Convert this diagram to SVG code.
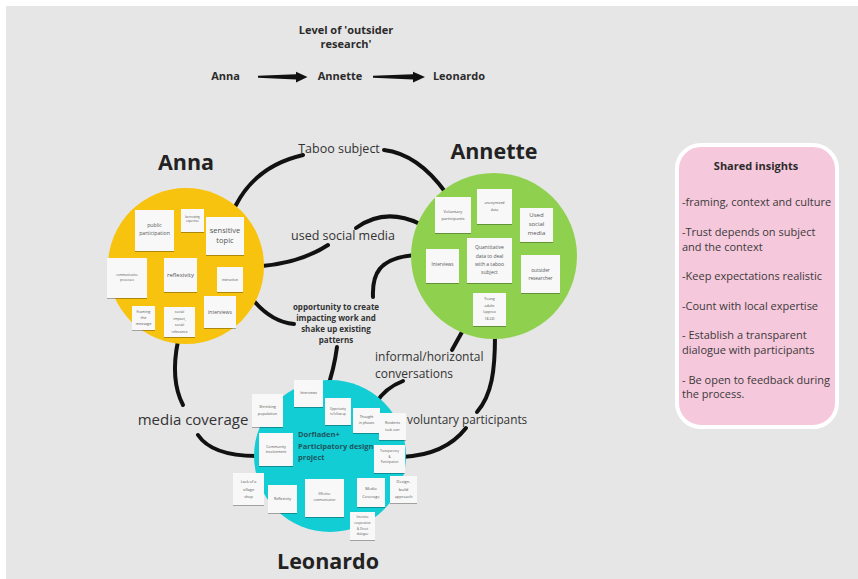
<svg xmlns="http://www.w3.org/2000/svg" width="858" height="579" viewBox="0 0 858 579">
<style>
text{font-family:"Open Sans","Noto Sans","Liberation Sans",sans-serif;fill:#333}
.hdr{font-size:11px;font-weight:700;fill:#2b2b2b}
.title{font-size:21.5px;font-weight:700;fill:#222;text-anchor:middle}
.lbl{font-size:12.5px;fill:#333}
.conn{fill:none;stroke:#111;stroke-width:4;stroke-linecap:round}
.note rect{fill:#f8f8f8;filter:url(#sh)}
.note text{fill:#555;text-anchor:middle}
.ins{font-size:11px;fill:#3a3a3a}
</style>
<defs>
<filter id="sh" x="-20%" y="-20%" width="140%" height="150%"><feDropShadow dx="0" dy="1" stdDeviation="0.7" flood-color="#000" flood-opacity="0.3"/></filter>
</defs>
<rect width="858" height="579" fill="#ffffff"/>
<rect x="6" y="6" width="852" height="573" fill="#e6e6e6"/>

<g id="header">
<text class="hdr" x="346" y="34" text-anchor="middle">Level of 'outsider</text>
<text class="hdr" x="346" y="48" text-anchor="middle">research'</text>
<text class="hdr" x="225.5" y="80" text-anchor="middle">Anna</text>
<text class="hdr" x="340" y="80" text-anchor="middle">Annette</text>
<text class="hdr" x="459" y="80" text-anchor="middle">Leonardo</text>
<polygon points="258,75.8 296,74.3 296,71.8 307.5,77 296,82.6 296,79.6 258,77.8" fill="#111"/>
<polygon points="373,75.8 413,74.3 413,71.8 425,77 413,82.6 413,79.6 373,77.8" fill="#111"/>
</g>

<g id="connectors">
<path class="conn" d="M236,205 Q256,166 303,155"/>
<path class="conn" d="M384,150 Q418,154 446,193"/>
<path class="conn" d="M262,266 C285,264 308,258 328,245"/>
<path class="conn" d="M356,228 Q385,207 420,224"/>
<path class="conn" d="M254,301 Q272,322 294,324"/>
<path class="conn" d="M373,297 C372,275 378,258 415,255"/>
<path class="conn" d="M337,347 Q334,370 326,392"/>
<path class="conn" d="M178,341 Q170,380 183,405"/>
<path class="conn" d="M198,435 Q212,456 257,456"/>
<path class="conn" d="M462,332 L452,350"/>
<path class="conn" d="M403,381 Q385,388 376,403"/>
<path class="conn" d="M495,336 C495,370 492,395 477,412"/>
<path class="conn" d="M466,428 Q445,455 402,457"/>
<text class="lbl" x="339" y="153" text-anchor="middle">Taboo subject</text>
<text class="lbl" x="343" y="240" text-anchor="middle">used social media</text>
<text x="336" y="310" text-anchor="middle" style="font-size:8px;font-weight:700;fill:#333">opportunity to create</text>
<text x="336" y="321" text-anchor="middle" style="font-size:8px;font-weight:700;fill:#333">impacting work and</text>
<text x="336" y="332" text-anchor="middle" style="font-size:8px;font-weight:700;fill:#333">shake up existing</text>
<text x="336" y="343" text-anchor="middle" style="font-size:8px;font-weight:700;fill:#333">patterns</text>
<text x="193" y="425" text-anchor="middle" style="font-size:15px;fill:#333">media coverage</text>
<text x="375" y="361" style="font-size:12px;fill:#333">informal/horizontal</text>
<text x="375" y="378" style="font-size:12px;fill:#333">conversations</text>
<text x="407" y="424" style="font-size:11.8px;fill:#333">voluntary participants</text>
</g>

<g id="anna">
<text class="title" x="186" y="170">Anna</text>
<circle cx="186" cy="266" r="78" fill="#f7c30f"/>
<g class="note"><rect x="135" y="210" width="39" height="41"/><text style="font-size:5.2px"><tspan x="154.5" y="227">public</tspan><tspan x="154.5" y="235">participation</tspan></text></g>
<g class="note"><rect x="181" y="209" width="23" height="23"/><text style="font-size:3px"><tspan x="192.5" y="218">borrowing</tspan><tspan x="192.5" y="222">expertise</tspan></text></g>
<g class="note"><rect x="206" y="217" width="38" height="38"/><text style="font-size:7.5px"><tspan x="225" y="233">sensitive</tspan><tspan x="225" y="243">topic</tspan></text></g>
<g class="note"><rect x="107" y="258" width="40" height="40"/><text style="font-size:3px"><tspan x="127" y="276">communicative</tspan><tspan x="127" y="281">processes</tspan></text></g>
<g class="note"><rect x="164" y="258" width="33" height="34"/><text x="180.5" y="277" style="font-size:6px">reflexivity</text></g>
<g class="note"><rect x="217" y="267" width="26" height="25"/><text x="230" y="281" style="font-size:3.2px">interaction</text></g>
<g class="note"><rect x="132" y="306" width="23" height="24"/><text style="font-size:3.8px"><tspan x="143.5" y="313">framing</tspan><tspan x="143.5" y="319">the</tspan><tspan x="143.5" y="325">message</tspan></text></g>
<g class="note"><rect x="164" y="307" width="31" height="30"/><text style="font-size:3.6px"><tspan x="179.5" y="313">social</tspan><tspan x="179.5" y="320">impact,</tspan><tspan x="179.5" y="326">social</tspan><tspan x="179.5" y="333">relevance</tspan></text></g>
<g class="note"><rect x="204" y="296" width="32" height="32"/><text x="220" y="314" style="font-size:5px">interviews</text></g>
</g>

<g id="annette">
<text class="title" x="494" y="159">Annette</text>
<circle cx="494" cy="256" r="83" fill="#8fd14f"/>
<g class="note"><rect x="435" y="197" width="36" height="36"/><text style="font-size:4.2px"><tspan x="453" y="213">Voluntary</tspan><tspan x="453" y="220">participants</tspan></text></g>
<g class="note"><rect x="477" y="189" width="35" height="35"/><text style="font-size:3.5px"><tspan x="494.5" y="204">anonymized</tspan><tspan x="494.5" y="210.5">data</tspan></text></g>
<g class="note"><rect x="520" y="208" width="33" height="34"/><text style="font-size:6px"><tspan x="536.5" y="217">Used</tspan><tspan x="536.5" y="226">social</tspan><tspan x="536.5" y="235">media</tspan></text></g>
<g class="note"><rect x="467" y="238" width="45" height="45"/><text style="font-size:5px"><tspan x="489.5" y="249">Quantitative</tspan><tspan x="489.5" y="257.5">data to deal</tspan><tspan x="489.5" y="266">with a taboo</tspan><tspan x="489.5" y="274">subject</tspan></text></g>
<g class="note"><rect x="426" y="249" width="33" height="34"/><text x="442.5" y="266" style="font-size:4.6px">Interviews</text></g>
<g class="note"><rect x="521" y="255" width="39" height="38"/><text style="font-size:4.8px"><tspan x="540.5" y="272">outsider</tspan><tspan x="540.5" y="280">researcher</tspan></text></g>
<g class="note"><rect x="473" y="293" width="33" height="33"/><text style="font-size:3.5px"><tspan x="489.5" y="300">Young</tspan><tspan x="489.5" y="306.5">adults</tspan><tspan x="489.5" y="313">(approx</tspan><tspan x="489.5" y="320">18-24)</tspan></text></g>
</g>

<g id="leonardo">
<circle cx="330" cy="456" r="76" fill="#12cdd4"/>
<text x="298" y="437" style="font-size:7.5px;font-weight:700;fill:#1f5660">Dorfladen+</text>
<text x="298" y="449" style="font-size:7.5px;font-weight:700;fill:#1f5660">Participatory design</text>
<text x="298" y="460" style="font-size:7.5px;font-weight:700;fill:#1f5660">project</text>
<g class="note"><rect x="294" y="380" width="29" height="27"/><text x="308.5" y="394" style="font-size:3.5px">Interviews</text></g>
<g class="note"><rect x="252" y="394" width="31" height="33"/><text style="font-size:3.8px"><tspan x="267.5" y="407.5">Shrinking</tspan><tspan x="267.5" y="415">population</tspan></text></g>
<g class="note"><rect x="325" y="398" width="26" height="27"/><text style="font-size:2.8px"><tspan x="338" y="409.5">Opportunity</tspan><tspan x="338" y="414.5">to follow-up</tspan></text></g>
<g class="note"><rect x="353" y="408" width="27" height="25"/><text style="font-size:3.5px"><tspan x="366.5" y="418">Thought</tspan><tspan x="366.5" y="423.5">in phases</tspan></text></g>
<g class="note"><rect x="379" y="413" width="27" height="27"/><text style="font-size:3.3px"><tspan x="392.5" y="424">Residents</tspan><tspan x="392.5" y="430.5">took over</tspan></text></g>
<g class="note"><rect x="259" y="433" width="34" height="33"/><text style="font-size:3.6px"><tspan x="276" y="447.5">Community</tspan><tspan x="276" y="453">involvement</tspan></text></g>
<g class="note"><rect x="374" y="445" width="31" height="28"/><text style="font-size:3px"><tspan x="389.5" y="452">Transparency</tspan><tspan x="389.5" y="457.5">&amp;</tspan><tspan x="389.5" y="463">Participation</tspan></text></g>
<g class="note"><rect x="233" y="473" width="31" height="32"/><text style="font-size:3.8px"><tspan x="248.5" y="483">Lack of a</tspan><tspan x="248.5" y="490.5">village</tspan><tspan x="248.5" y="497.5">shop</tspan></text></g>
<g class="note"><rect x="268" y="485" width="29" height="28"/><text x="282.5" y="500" style="font-size:3.6px">Reflexivity</text></g>
<g class="note"><rect x="305" y="479" width="39" height="38"/><text style="font-size:3px"><tspan x="324.5" y="494.5">Effective</tspan><tspan x="324.5" y="501">communication</tspan></text></g>
<g class="note"><rect x="357" y="478" width="28" height="29"/><text style="font-size:4px"><tspan x="371" y="490">Media</tspan><tspan x="371" y="497.5">Coverage</tspan></text></g>
<g class="note"><rect x="390" y="476" width="27" height="27"/><text style="font-size:4px"><tspan x="403.5" y="483">Design-</tspan><tspan x="403.5" y="490.5">build</tspan><tspan x="403.5" y="497.5">approach</tspan></text></g>
<g class="note"><rect x="350" y="512" width="25" height="28"/><text style="font-size:2.9px"><tspan x="362.5" y="518">Intensive</tspan><tspan x="362.5" y="523.5">cooperation</tspan><tspan x="362.5" y="529.5">&amp; Direct</tspan><tspan x="362.5" y="535">dialogue</tspan></text></g>
<text class="title" x="328" y="569">Leonardo</text>
</g>

<g id="shared-insights">
<rect x="677" y="145" width="160" height="282" rx="24" fill="#f6c8dc" stroke="#ffffff" stroke-width="4"/>
<text x="756" y="170" text-anchor="middle" style="font-size:11px;font-weight:700;fill:#2b2b2b">Shared insights</text>
<text class="ins" x="682" y="206">-framing, context and culture</text>
<text class="ins" x="682" y="236">-Trust depends on subject</text>
<text class="ins" x="682" y="251">and the context</text>
<text class="ins" x="682" y="280">-Keep expectations realistic</text>
<text class="ins" x="682" y="310">-Count with local expertise</text>
<text class="ins" x="682" y="339">- Establish a transparent</text>
<text class="ins" x="682" y="354">dialogue with participants</text>
<text class="ins" x="682" y="384">- Be open to feedback during</text>
<text class="ins" x="682" y="398">the process.</text>
</g>
</svg>
